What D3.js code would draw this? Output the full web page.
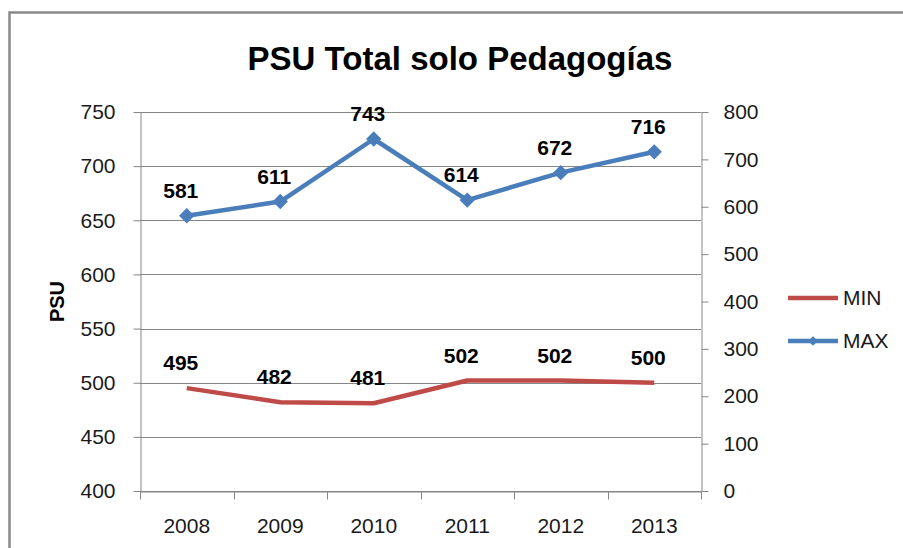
<!DOCTYPE html>
<html>
<head>
<meta charset="utf-8">
<script src="https://cdn.jsdelivr.net/npm/d3@7"></script>
<style>
  body { margin: 0; background: #fff; }
  svg { display: block; font-family: "Liberation Sans", Arial, sans-serif; }
</style>
</head>
<body>
<svg id="chart" width="903" height="548"></svg>
<script>
const years = ['2008', '2009', '2010', '2011', '2012', '2013'];
const minValues = [495, 482, 481, 502, 502, 500];
const maxValues = [581, 611, 743, 614, 672, 716];
const leftTicks = [400, 450, 500, 550, 600, 650, 700, 750];
const rightTicks = [0, 100, 200, 300, 400, 500, 600, 700, 800];

const colors = { min: '#BE4B48', max: '#4A7EBB', grid: '#868686', border: '#8a8a8a' };
const plot = { left: 140, right: 701, top: 112, bottom: 491 };

const svg = d3.select('#chart');

// outer frame (runs off the right and bottom edge like the original)
svg.append('rect')
    .attr('x', 9.5).attr('y', 12.5)
    .attr('width', 920).attr('height', 560)
    .attr('fill', 'none')
    .attr('stroke', colors.border)
    .attr('stroke-width', 2.5);

const x = d3.scaleBand().domain(years).range([plot.left, plot.right]);
const yLeft = d3.scaleLinear().domain([400, 750]).range([plot.bottom, plot.top]);
const yRight = d3.scaleLinear().domain([0, 800]).range([plot.bottom, plot.top]);

// gridlines
svg.append('g')
    .selectAll('line')
    .data(leftTicks)
    .enter().append('line')
    .attr('x1', plot.left).attr('x2', plot.right)
    .attr('y1', (d) => Math.round(yLeft(d)) + 0.5)
    .attr('y2', (d) => Math.round(yLeft(d)) + 0.5)
    .attr('stroke', colors.grid).attr('stroke-width', 1);

function styleAxis(g) {
    g.selectAll('path, line').attr('stroke', colors.grid).attr('stroke-width', 1);
    g.selectAll('text').attr('fill', '#1a1a1a').style('font-size', '21px');
}

// left axis
svg.append('g')
    .attr('transform', `translate(${plot.left + 0.5},0)`)
    .call(d3.axisLeft(yLeft).tickValues(leftTicks).tickSize(7).tickSizeOuter(0).tickPadding(18))
    .call(styleAxis);

// right axis
svg.append('g')
    .attr('transform', `translate(${plot.right + 0.5},0)`)
    .call(d3.axisRight(yRight).tickValues(rightTicks).tickSize(7).tickSizeOuter(0).tickPadding(15))
    .call(styleAxis);

// x axis with ticks between categories
const xAxis = svg.append('g')
    .attr('transform', `translate(0,${plot.bottom + 0.5})`)
    .call(d3.axisBottom(x).tickSize(0).tickPadding(27))
    .call(styleAxis);

xAxis.selectAll('.sep')
    .data(years.concat(['end']))
    .enter().append('line')
    .attr('class', 'sep')
    .attr('x1', (d, i) => Math.round(plot.left + i * x.bandwidth()) + 0.5)
    .attr('x2', (d, i) => Math.round(plot.left + i * x.bandwidth()) + 0.5)
    .attr('y1', 0).attr('y2', 8)
    .attr('stroke', colors.grid);

const cx = (d, i) => x(years[i]) + x.bandwidth() / 2;

// MIN line (left axis)
svg.append('path')
    .datum(minValues)
    .attr('fill', 'none')
    .attr('stroke', colors.min)
    .attr('stroke-width', 4.5)
    .attr('stroke-linejoin', 'round')
    .attr('d', d3.line().x(cx).y((d) => yLeft(d)));

// MAX line (right axis)
svg.append('path')
    .datum(maxValues)
    .attr('fill', 'none')
    .attr('stroke', colors.max)
    .attr('stroke-width', 4.5)
    .attr('stroke-linejoin', 'round')
    .attr('d', d3.line().x(cx).y((d) => yRight(d)));

const diamond = d3.symbol().type(d3.symbolDiamond2);

svg.append('g')
    .selectAll('path')
    .data(maxValues)
    .enter().append('path')
    .attr('d', diamond.size(150)())
    .attr('transform', (d, i) => `translate(${cx(d, i)},${yRight(d)})`)
    .attr('fill', colors.max);

// data labels
function addLabels(values, scale) {
    svg.append('g')
        .selectAll('text')
        .data(values)
        .enter().append('text')
        .attr('x', (d, i) => cx(d, i) - 6)
        .attr('y', (d) => scale(d) - 18)
        .attr('text-anchor', 'middle')
        .style('font-size', '21px')
        .style('font-weight', 'bold')
        .text((d) => d);
}
addLabels(maxValues, yRight);
addLabels(minValues, yLeft);

// title
svg.append('text')
    .attr('x', 460).attr('y', 70)
    .attr('text-anchor', 'middle')
    .style('font-size', '33px')
    .style('font-weight', 'bold')
    .text('PSU Total solo Pedagogías');

// y axis title
svg.append('text')
    .attr('transform', `translate(64,${(plot.top + plot.bottom) / 2}) rotate(-90)`)
    .attr('text-anchor', 'middle')
    .style('font-size', '20px')
    .style('font-weight', 'bold')
    .text('PSU');

// legend
const legendItems = [
    { name: 'MIN', color: colors.min, marker: false },
    { name: 'MAX', color: colors.max, marker: true }
];
const legend = svg.append('g').attr('transform', 'translate(788,298)');
legendItems.forEach((item, i) => {
    const row = legend.append('g').attr('transform', `translate(0,${i * 43})`);
    row.append('line')
        .attr('x1', 0).attr('x2', 50)
        .attr('stroke', item.color).attr('stroke-width', 4.5);
    if (item.marker) {
        row.append('path')
            .attr('d', diamond.size(60)())
            .attr('transform', 'translate(25,0)')
            .attr('fill', item.color);
    }
    row.append('text')
        .attr('x', 55).attr('dy', '0.35em')
        .style('font-size', '21px')
        .attr('fill', '#1a1a1a')
        .text(item.name);
});
</script>
</body>
</html>
